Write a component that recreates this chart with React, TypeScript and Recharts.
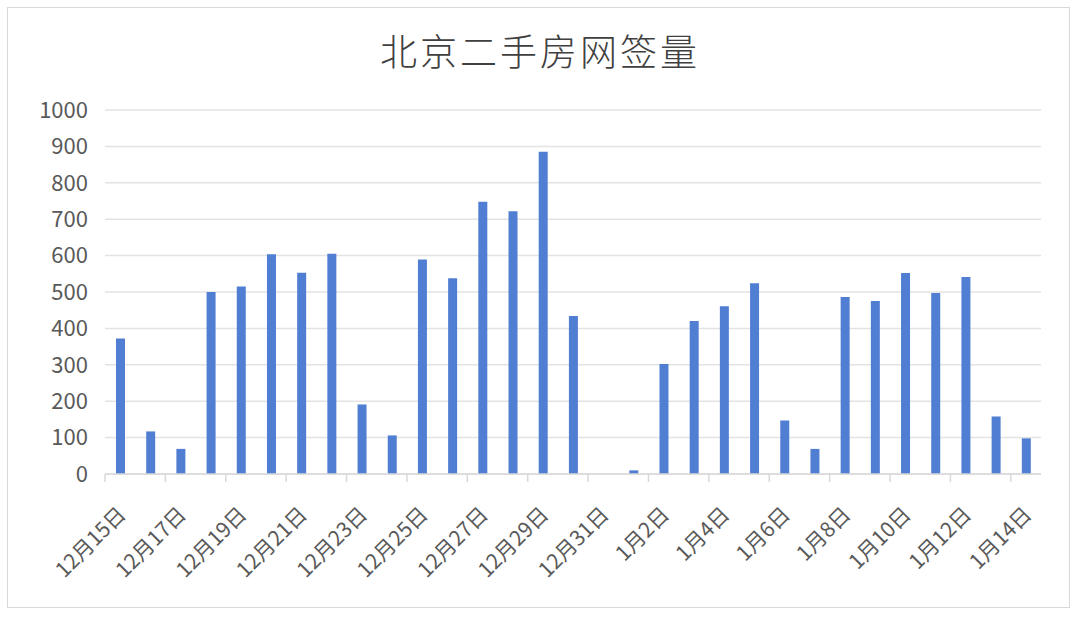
import React from 'react';
import { BarChart, Bar, XAxis, YAxis, CartesianGrid } from 'recharts';

const categories = [
  '12月15日', '12月16日', '12月17日', '12月18日', '12月19日', '12月20日', '12月21日', '12月22日',
  '12月23日', '12月24日', '12月25日', '12月26日', '12月27日', '12月28日', '12月29日', '12月30日',
  '12月31日', '1月1日', '1月2日', '1月3日', '1月4日', '1月5日', '1月6日', '1月7日',
  '1月8日', '1月9日', '1月10日', '1月11日', '1月12日', '1月13日', '1月14日',
];
const signings = [
  372, 117, 69, 500, 515, 604, 553, 605,
  191, 106, 589, 538, 748, 722, 885, 434,
  0, 10, 302, 420, 461, 524, 147,
  69, 486, 475, 552, 497, 541, 158, 98,
];
const yTicks = [0, 100, 200, 300, 400, 500, 600, 700, 800, 900, 1000];
const title = '北京二手房网签量';

const data = categories.map((c, i) => ({ date: c, value: signings[i] }));

const W = 1080;
const H = 617;
const M = { top: 110, right: 39, bottom: 0, left: 0 };
const X_AXIS_H = 143;
const Y_AXIS_W = 105;
const plotW = W - M.left - M.right - Y_AXIS_W;
const halfBand = plotW / categories.length / 2;

const FONT = '"Noto Sans CJK SC", "Noto Sans", sans-serif';

const XTick = (props: any) => {
  const { x, y, payload, index } = props;
  if (index % 2 !== 0) return null;
  const tx = x - halfBand;
  const lx = x + 7;
  const ly = y + 42;
  return (
    <g>
      <line x1={tx} y1={y} x2={tx} y2={y + 8} stroke="#D9D9D9" strokeWidth={1.5} />
      <text
        x={lx}
        y={ly}
        textAnchor="end"
        fill="#595959"
        fontSize={21}
        fontFamily={FONT}
        transform={`rotate(-45 ${lx} ${ly})`}
      >
        {payload.value}
      </text>
    </g>
  );
};

export default function App() {
  return (
    <div style={{ position: 'absolute', left: 0, top: 0, width: W, height: H, background: '#fff' }}>
      <div
        style={{
          position: 'absolute',
          left: 7,
          top: 7,
          width: 1063,
          height: 601,
          border: '1.5px solid #D9D9D9',
          boxSizing: 'border-box',
        }}
      />
      <div
        style={{
          position: 'absolute',
          left: 0,
          top: 27,
          width: W,
          textAlign: 'center',
          fontFamily: FONT,
          fontSize: 37,
          fontWeight: 300,
          letterSpacing: 3,
          color: '#404040',
          lineHeight: '46px',
        }}
      >
        {title}
      </div>
      <div style={{ position: 'absolute', left: 0, top: 0 }}>
        <BarChart width={W} height={H} data={data} margin={M}>
          <CartesianGrid vertical={false} stroke="#E3E3E3" strokeWidth={1.5} />
          <XAxis
            dataKey="date"
            interval={0}
            tickLine={false}
            tickSize={0}
            tickMargin={0}
            axisLine={{ stroke: '#D9D9D9', strokeWidth: 1.5 }}
            tick={<XTick />}
            height={X_AXIS_H}
          />
          <YAxis
            width={Y_AXIS_W}
            domain={[0, 1000]}
            ticks={yTicks}
            interval={0}
            axisLine={false}
            tickLine={false}
            tickMargin={11}
            tick={{ fill: '#595959', fontSize: 22, fontFamily: FONT }}
          />
          <Bar dataKey="value" fill="#507ED2" barSize={9} isAnimationActive={false} />
        </BarChart>
      </div>
    </div>
  );
}
